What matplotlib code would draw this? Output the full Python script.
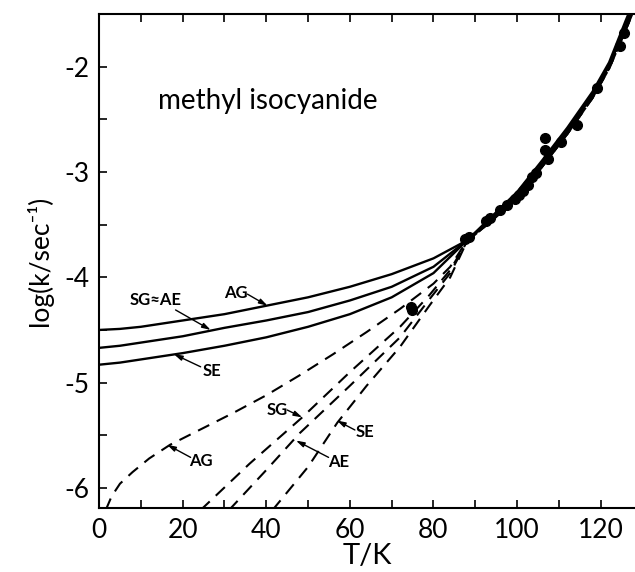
import numpy as np
import matplotlib
matplotlib.use('Agg')
import matplotlib.pyplot as plt
from matplotlib.ticker import MultipleLocator, FuncFormatter

plt.rcParams['font.family'] = ['Lato', 'DejaVu Sans']

# upper branch (T > 88 K), the curves fan out a little
T_hi = [88, 94, 100, 106, 112, 118, 122, 126, 128.5]
y_hi_top = [-3.65, -3.42, -3.19, -2.89, -2.58, -2.24, -1.96, -1.56, -1.32]
y_hi_mid = [-3.65, -3.44, -3.22, -2.92, -2.61, -2.27, -1.99, -1.61, -1.37]
y_hi_lo = [-3.66, -3.46, -3.25, -2.95, -2.64, -2.30, -2.02, -1.65, -1.41]

# solid curves
T_sol = [0, 5, 10, 20, 30, 40, 50, 60, 70, 80]
ag_sol = [-4.50, -4.49, -4.47, -4.41, -4.35, -4.27, -4.19, -4.09, -3.97, -3.82]
sgae_sol = [-4.67, -4.65, -4.62, -4.56, -4.48, -4.41, -4.33, -4.22, -4.09, -3.90]
se_sol = [-4.83, -4.81, -4.78, -4.72, -4.65, -4.57, -4.47, -4.35, -4.19, -3.96]

# dashed curves
T_ag_d = [1.6, 3, 5, 8, 12, 17, 25, 32, 40, 48, 56, 64, 72, 80, 84]
ag_d = [-6.21, -6.08, -5.96, -5.85, -5.72, -5.59, -5.43, -5.29, -5.12, -4.93, -4.73, -4.52, -4.30, -4.06, -3.90]
T_sg_d = [24.3, 36, 48.6, 60, 72, 79, 84]
sg_d = [-6.21, -5.77, -5.33, -4.90, -4.47, -4.17, -3.93]
T_ae_d = [31.1, 40, 48, 60, 72, 79, 84]
ae_d = [-6.21, -5.83, -5.48, -5.03, -4.57, -4.21, -3.96]
T_se_d = [41.5, 50, 57, 64, 72, 79, 84]
se_d = [-6.21, -5.80, -5.38, -5.03, -4.66, -4.27, -4.00]

# experimental points
T_exp = [74.5, 74.8, 87.5, 88.5, 92.5, 93.5, 96, 97.5, 99.5, 100.5, 101.5, 102.5,
         103.5, 104.5, 106.7, 106.7, 107.5, 110.5, 114.3, 119, 124.5, 125.5]
y_exp = [-4.28, -4.31, -3.64, -3.62, -3.47, -3.44, -3.36, -3.31, -3.26, -3.22, -3.18, -3.12,
         -3.05, -3.01, -2.68, -2.79, -2.88, -2.72, -2.55, -2.20, -1.80, -1.68]

fig = plt.figure(figsize=(6.35, 5.72), dpi=100)
ax = fig.add_axes([0.156, 0.112, 0.844, 0.8635])

for lo, hi in [(ag_sol, y_hi_top), (sgae_sol, y_hi_mid), (se_sol, y_hi_mid)]:
    ax.plot(T_sol + T_hi, lo + hi, color='black', lw=1.7)

for T, lo, hi in [(T_ag_d, ag_d, y_hi_mid), (T_sg_d, sg_d, y_hi_lo),
                  (T_ae_d, ae_d, y_hi_lo), (T_se_d, se_d, y_hi_lo)]:
    ax.plot(T + T_hi, lo + hi, color='black', lw=1.5, dashes=(6, 4))

ax.plot(T_exp, y_exp, 'o', color='black', ms=7)

lab = dict(fontsize=12, fontweight='bold', ha='center', va='center')
arr = dict(arrowstyle='-|>,head_length=0.5,head_width=0.15', lw=1, color='black',
           shrinkA=0, shrinkB=0)

notes = [
    ('AG', (32.7, -4.15), (35.5, -4.16), (40.3, -4.27)),
    ('SG≈AE', (13.6, -4.22), (18.3, -4.31), (26.7, -4.50)),
    ('SE', (27.1, -4.89), (24.3, -4.85), (17.9, -4.73)),
    ('AG', (24.3, -5.74), (21.9, -5.71), (16.3, -5.59)),
    ('SG', (42.7, -5.26), (45.0, -5.26), (48.6, -5.33)),
    ('AE', (57.3, -5.75), (54.9, -5.71), (47.1, -5.55)),
    ('SE', (63.6, -5.47), (61.2, -5.45), (56.9, -5.36)),
]
for txt, pos, tail, head in notes:
    ax.text(pos[0], pos[1], txt, **lab)
    ax.annotate('', xy=head, xytext=tail, arrowprops=arr)

ax.text(14, -2.33, 'methyl isocyanide', fontsize=20, va='center')

ax.set_xlim(0, 128.2)
ax.set_ylim(-6.19, -1.5)
ax.xaxis.set_major_locator(MultipleLocator(20))
ax.xaxis.set_minor_locator(MultipleLocator(10))
ax.yaxis.set_major_locator(MultipleLocator(1))
ax.yaxis.set_minor_locator(MultipleLocator(0.5))
ax.tick_params(which='both', direction='in', length=6, width=1.2, top=True, right=False,
               labelsize=19, pad=7)
ax.yaxis.set_major_formatter(FuncFormatter(lambda v, p: '%d' % v))
ax.xaxis.set_major_formatter(FuncFormatter(lambda v, p: '%d' % v))
ax.spines['right'].set_visible(False)
for s in ['left', 'top', 'bottom']:
    ax.spines[s].set_linewidth(1.5)

ax.set_xlabel('T/K', fontsize=21, labelpad=0)
ax.set_ylabel('log(k/sec⁻¹)', fontsize=19, labelpad=8)

fig.savefig('out.png', dpi=100)
